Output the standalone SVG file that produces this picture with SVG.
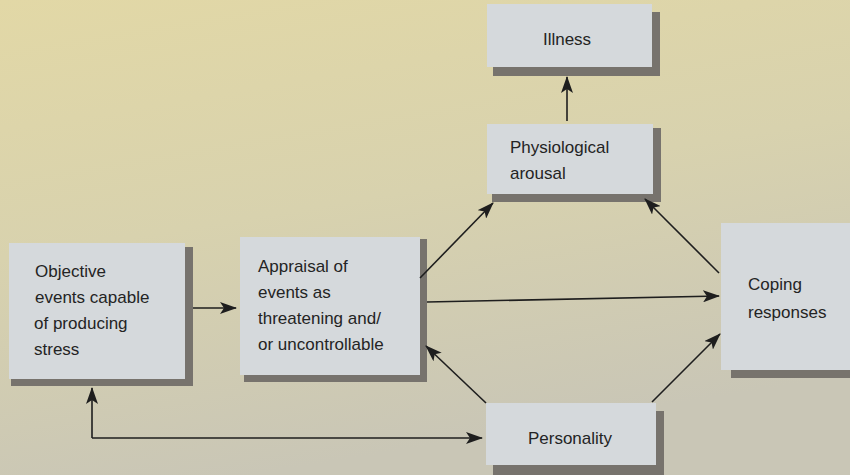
<svg xmlns="http://www.w3.org/2000/svg" width="850" height="475" viewBox="0 0 850 475">
<style>
.lt{fill:#d5d9dc}
.sh{fill:#77736d}
.tx{font-family:"Liberation Sans",Arial,sans-serif;font-size:17px;fill:#242424}
.cn{stroke:#1e1e1e;stroke-width:1.6;fill:none;marker-end:url(#ah)}
</style>
<defs>
<linearGradient id="bg" x1="0" y1="0" x2="0.3" y2="1">
<stop offset="0" stop-color="#e2d8a6"/>
<stop offset="0.5" stop-color="#d8d2ae"/>
<stop offset="1" stop-color="#c9c6b6"/>
</linearGradient>
<marker id="ah" markerUnits="userSpaceOnUse" markerWidth="17" markerHeight="12" refX="16" refY="6" orient="auto">
<path d="M0,0 L17,6 L0,12 L4,6 z" fill="#1e1e1e"/>
</marker>
</defs>
<rect x="0" y="0" width="850" height="475" fill="url(#bg)"/>
<g id="illness">
<rect class="lt" x="487" y="4" width="165" height="63"/>
<rect class="sh" x="652" y="12" width="8" height="64"/>
<rect class="sh" x="493" y="67" width="167" height="9"/>
<text class="tx" x="567" y="45" text-anchor="middle">Illness</text>
</g>
<g id="physiological">
<rect class="lt" x="487" y="124" width="166" height="70"/>
<rect class="sh" x="653" y="128" width="8" height="74"/>
<rect class="sh" x="492" y="194" width="169" height="8"/>
<text class="tx" x="510" y="153">Physiological</text>
<text class="tx" x="510" y="179">arousal</text>
</g>
<g id="objective">
<rect class="lt" x="9" y="243" width="176" height="136"/>
<rect class="sh" x="185" y="247" width="8" height="139"/>
<rect class="sh" x="11" y="379" width="182" height="7"/>
<text class="tx" x="35" y="277">Objective</text>
<text class="tx" x="35" y="303">events capable</text>
<text class="tx" x="34" y="329">of producing</text>
<text class="tx" x="34" y="355">stress</text>
</g>
<g id="appraisal">
<rect class="lt" x="240" y="237" width="180" height="138"/>
<rect class="sh" x="420" y="239" width="7" height="143"/>
<rect class="sh" x="244" y="375" width="183" height="7"/>
<text class="tx" x="258" y="272">Appraisal of</text>
<text class="tx" x="258" y="298">events as</text>
<text class="tx" x="258" y="324">threatening and/</text>
<text class="tx" x="258" y="350">or uncontrollable</text>
</g>
<g id="coping">
<rect class="lt" x="721" y="223" width="129" height="147"/>
<rect class="sh" x="731" y="370" width="119" height="8"/>
<text class="tx" x="748" y="290">Coping</text>
<text class="tx" x="748" y="318">responses</text>
</g>
<g id="personality">
<rect class="lt" x="486" y="403" width="170" height="62"/>
<rect class="sh" x="656" y="411" width="8" height="64"/>
<rect class="sh" x="493" y="465" width="171" height="10"/>
<text class="tx" x="570" y="444" text-anchor="middle">Personality</text>
</g>
<g id="connectors">
<line class="cn" x1="567" y1="121" x2="567" y2="77"/>
<line class="cn" x1="193" y1="308" x2="236" y2="308"/>
<line class="cn" x1="420" y1="278" x2="493" y2="203"/>
<line class="cn" x1="427" y1="302" x2="719" y2="296"/>
<line class="cn" x1="719" y1="273" x2="645" y2="199"/>
<line class="cn" x1="486" y1="403" x2="426" y2="346"/>
<line class="cn" x1="652" y1="402" x2="720" y2="334"/>
<line class="cn" x1="92" y1="438" x2="482" y2="438"/>
<line class="cn" x1="92" y1="438" x2="92" y2="388"/>
</g>
</svg>
